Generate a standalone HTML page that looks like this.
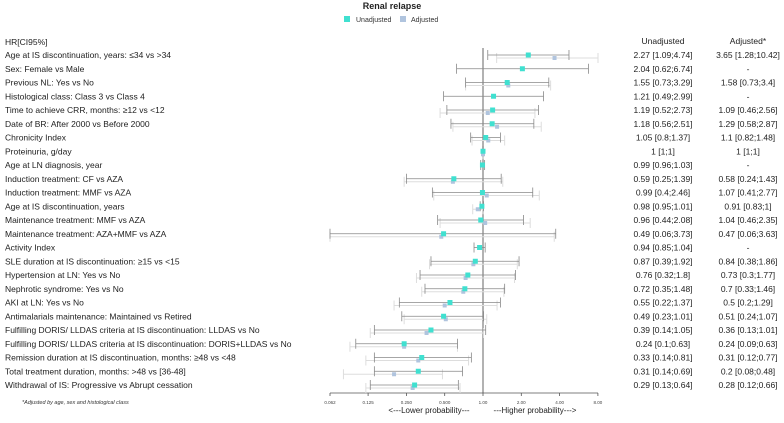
<!DOCTYPE html>
<html><head><meta charset="utf-8"><style>
body{margin:0;background:#fff;}
svg{display:block;font-family:"Liberation Sans",sans-serif;}
</style></head><body>
<svg id="chart" width="784" height="423" viewBox="0 0 784 423">
<text x="392" y="9" font-size="9" font-weight="bold" text-anchor="middle" fill="#222">Renal relapse</text>
<g>
<rect x="344" y="16" width="6" height="6" fill="#40e0d0"/>
<text x="356" y="22" font-size="7" fill="#333">Unadjusted</text>
<rect x="400" y="16" width="6" height="6" fill="#b0c4de"/>
<text x="411" y="22" font-size="7" fill="#333">Adjusted</text>
</g>
<text x="5" y="45" font-size="8.5" fill="#222">HR[CI95%]</text>
<text x="663" y="44" font-size="8.5" text-anchor="middle" fill="#222">Unadjusted</text>
<text x="748" y="44" font-size="8.5" text-anchor="middle" fill="#222">Adjusted*</text>
<g id="rows"></g>
<text x="22" y="404" font-size="5.5" font-style="italic" fill="#333">*Adjusted by age, sex and histological class</text>
<text x="429" y="413" font-size="8" text-anchor="middle" fill="#222">&lt;---Lower probability---</text>
<text x="535" y="413" font-size="8" text-anchor="middle" fill="#222">---Higher probability---&gt;</text>
</svg>
<script>
const labels=["Age at IS discontinuation, years: ≤34 vs >34","Sex: Female vs Male","Previous NL: Yes vs No","Histological class: Class 3 vs Class 4","Time to achieve CRR, months: ≥12 vs <12","Date of BR: After 2000 vs Before 2000","Chronicity Index","Proteinuria, g/day","Age at LN diagnosis, year","Induction treatment: CF vs AZA","Induction treatment: MMF vs AZA","Age at IS discontinuation, years","Maintenance treatment: MMF vs AZA","Maintenance treatment: AZA+MMF vs AZA","Activity Index","SLE duration at IS discontinuation: ≥15 vs <15","Hypertension at LN: Yes vs No","Nephrotic syndrome: Yes vs No","AKI at LN: Yes vs No","Antimalarials maintenance: Maintained vs Retired","Fulfilling DORIS/ LLDAS criteria at IS discontinuation: LLDAS vs No","Fulfilling DORIS/ LLDAS criteria at IS discontinuation: DORIS+LLDAS vs No","Remission duration at IS discontinuation, months: ≥48 vs <48","Total treatment duration, months: >48 vs [36-48]","Withdrawal of IS: Progressive vs Abrupt cessation"];
const unadjEst=[2.27,2.04,1.55,1.21,1.19,1.18,1.05,1,0.99,0.59,0.99,0.98,0.96,0.49,0.94,0.87,0.76,0.72,0.55,0.49,0.39,0.24,0.33,0.31,0.29];
const unadjLo=[1.09,0.62,0.73,0.49,0.52,0.56,0.8,1,0.96,0.25,0.4,0.95,0.44,0.06,0.85,0.39,0.32,0.35,0.22,0.23,0.14,0.1,0.14,0.14,0.13];
const unadjHi=[4.74,6.74,3.29,2.99,2.73,2.51,1.37,1,1.03,1.39,2.46,1.01,2.08,3.73,1.04,1.92,1.8,1.48,1.37,1.01,1.05,0.63,0.81,0.69,0.64];
const adjEst=[3.65,null,1.58,null,1.09,1.29,1.1,1,null,0.58,1.07,0.91,1.04,0.47,null,0.84,0.73,0.7,0.5,0.51,0.36,0.24,0.31,0.2,0.28];
const adjLo=[1.28,null,0.73,null,0.46,0.58,0.82,1,null,0.24,0.41,0.83,0.46,0.06,null,0.38,0.3,0.33,0.2,0.24,0.13,0.09,0.12,0.08,0.12];
const adjHi=[10.42,null,3.4,null,2.56,2.87,1.48,1,null,1.43,2.77,1,2.35,3.63,null,1.86,1.77,1.46,1.29,1.07,1.01,0.63,0.77,0.48,0.66];
const tickVals=[0.0625,0.125,0.25,0.5,1,2,4,8];
const tickLabels=["0.062","0.125","0.250","0.500","1.00","2.00","4.00","8.00"];

const NS="http://www.w3.org/2000/svg";
const g=document.getElementById('rows');
const X0=483,PER=38.3,MINX=330,MAXX=598;
function xs(v){return Math.max(MINX,Math.min(MAXX,X0+Math.log2(v)*PER));}
function ys(i){return 55+i*13.75;}
function mk(tag,attrs,parent){const e=document.createElementNS(NS,tag);for(const k in attrs)e.setAttribute(k,attrs[k]);(parent||g).appendChild(e);return e;}
function fmt(e,l,h){return e+" ["+l+";"+h+"]";}
const ref=mk('line',{x1:X0,x2:X0,y1:48,y2:393,stroke:'#999','stroke-width':1.5});


const ax=mk('line',{x1:MINX,x2:MAXX,y1:393,y2:393,stroke:'#555','stroke-width':0.8});


tickVals.forEach((v,k)=>{
 const t=mk('line',{x1:xs(v),x2:xs(v),y1:393,y2:396,stroke:'#555','stroke-width':0.8});
 
 
 const tl=mk('text',{x:xs(v),y:404,'font-size':4.5,'text-anchor':'middle',fill:'#444'});
 tl.textContent=tickLabels[k];
 
 
});
labels.forEach((lab,i)=>{
 const y=ys(i);
 const t=mk('text',{x:5,y:y+3,'font-size':8.5,fill:'#222'});
 t.textContent=lab;
 
 
 const u=mk('text',{x:663,y:y+3,'font-size':8.5,'text-anchor':'middle',fill:'#222'});
 u.textContent=fmt(unadjEst[i],unadjLo[i],unadjHi[i]);
 
 
 const a=mk('text',{x:748,y:y+3,'font-size':8.5,'text-anchor':'middle',fill:'#222'});
 a.textContent=adjEst[i]===null?"-":fmt(adjEst[i],adjLo[i],adjHi[i]);
 
 
 if(adjEst[i]!==null){
  const ya=y+3;
  const l=mk('line',{x1:xs(adjLo[i]),x2:xs(adjHi[i]),y1:ya,y2:ya,stroke:'#ddd','stroke-width':1});
  
  
  [adjLo[i],adjHi[i]].forEach(v=>{const c=mk('line',{x1:xs(v),x2:xs(v),y1:ya-5,y2:ya+5,stroke:'#ddd','stroke-width':1});
   
   });
 }
 const l=mk('line',{x1:xs(unadjLo[i]),x2:xs(unadjHi[i]),y1:y,y2:y,stroke:'#888','stroke-width':0.8});
 
 
 [unadjLo[i],unadjHi[i]].forEach(v=>{const c=mk('line',{x1:xs(v),x2:xs(v),y1:y-5,y2:y+5,stroke:'#888','stroke-width':0.8});
  
  });
 if(adjEst[i]!==null){
  const p=mk('rect',{x:xs(adjEst[i])-2,y:y+1,width:4,height:4,fill:'#b0c4de'});
  
  
 }
 const p=mk('rect',{x:xs(unadjEst[i])-2.5,y:y-2.5,width:5,height:5,fill:'#40e0d0'});
 
 
});
</script>
</body></html>
